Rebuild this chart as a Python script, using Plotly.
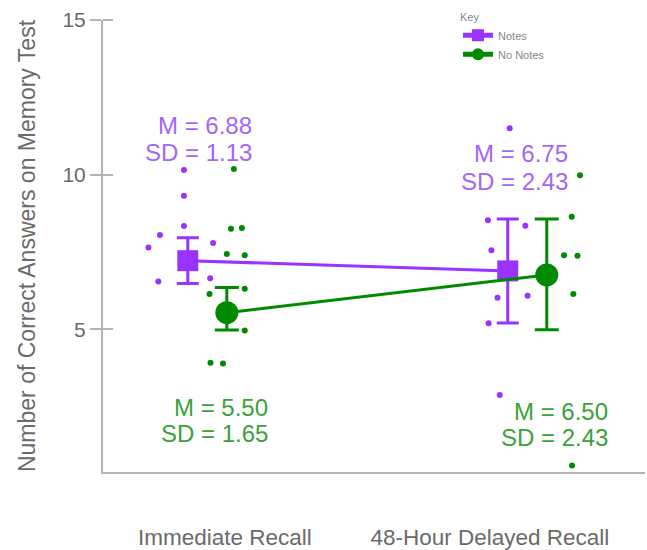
import plotly.graph_objects as go

# ---------------- data ----------------
categories = ["Immediate Recall", "48-Hour Delayed Recall"]
cat_pos = [0.0, 1.0]
label_pos = [0.056, 0.884]          # where the category labels sit
group_offset = {"Notes": -0.06, "No Notes": 0.062}

notes_mean = [7.22, 6.89]
notes_err = [0.74, 1.68]
nonotes_mean = [5.54, 6.76]
nonotes_err_plus = [0.81, 1.81]
nonotes_err_minus = [0.56, 1.77]

# individual scores (value, horizontal jitter)
notes_imm = [10.15, 9.32, 8.34, 8.05, 7.65, 7.79, 6.55, 6.65]
notes_imm_jit = [-0.012, -0.012, -0.012, -0.087, -0.123, 0.079, -0.092, 0.070]
nonotes_imm = [10.18, 8.25, 8.28, 7.44, 7.40, 6.14, 6.31, 4.96, 3.92, 3.90]
nonotes_imm_jit = [0.022, 0.013, 0.047, 0.0, 0.056, -0.054, 0.056, 0.056, -0.051, -0.012]
notes_del = [11.50, 8.53, 8.35, 7.56, 6.02, 6.09, 5.20, 2.88]
notes_del_jit = [0.006, -0.062, 0.055, -0.051, -0.032, 0.062, -0.060, -0.025]
nonotes_del = [9.98, 8.64, 7.40, 7.38, 6.14, 0.60]
nonotes_del_jit = [0.104, 0.078, 0.054, 0.096, 0.083, 0.079]

stats_text = {
    "Notes": [("M = 6.88", "SD = 1.13"), ("M = 6.75", "SD = 2.43")],
    "No Notes": [("M = 5.50", "SD = 1.65"), ("M = 6.50", "SD = 2.43")],
}

y_ticks = [5, 10, 15]

PURPLE = "#9933ff"
PURPLE_TXT = "#a466f5"
GREEN = "#008a00"
GREEN_TXT = "#3aa23a"
GRAY = "#b4b4b4"
TXT_GRAY = "#6a6a6a"
FONT = "Liberation Sans, Arial, sans-serif"

fig = go.Figure()

def dots(vals, jit, base, color):
    fig.add_trace(go.Scatter(
        x=[base + j for j in jit], y=vals, mode="markers",
        marker=dict(color=color, size=6), showlegend=False, hoverinfo="y"))

dots(notes_imm, notes_imm_jit, cat_pos[0] + group_offset["Notes"], PURPLE)
dots(nonotes_imm, nonotes_imm_jit, cat_pos[0] + group_offset["No Notes"], GREEN)
dots(notes_del, notes_del_jit, cat_pos[1] + group_offset["Notes"], PURPLE)
dots(nonotes_del, nonotes_del_jit, cat_pos[1] + group_offset["No Notes"], GREEN)

fig.add_trace(go.Scatter(
    x=[c + group_offset["Notes"] for c in cat_pos], y=notes_mean,
    mode="lines+markers", name="Notes",
    line=dict(color=PURPLE, width=3),
    marker=dict(symbol="square", size=21, color=PURPLE),
    error_y=dict(type="data", array=notes_err, color=PURPLE, thickness=3, width=11)))

fig.add_trace(go.Scatter(
    x=[c + group_offset["No Notes"] for c in cat_pos], y=nonotes_mean,
    mode="lines+markers", name="No Notes",
    line=dict(color=GREEN, width=3),
    marker=dict(symbol="circle", size=23, color=GREEN),
    error_y=dict(type="data", symmetric=False, array=nonotes_err_plus,
                 arrayminus=nonotes_err_minus, color=GREEN, thickness=3, width=12)))

# stats annotations
ann_pos = {
    "Notes": [(0.147, 11.60, 10.73), (1.134, 10.67, 9.79)],
    "No Notes": [(0.197, 2.49, 1.62), (1.259, 2.36, 1.49)],
}
for grp, col in (("Notes", PURPLE_TXT), ("No Notes", GREEN_TXT)):
    for (m, sd), (ax, y1, y2) in zip(stats_text[grp], ann_pos[grp]):
        for txt, yy in ((m, y1), (sd, y2)):
            fig.add_annotation(x=ax, y=yy, text=txt, showarrow=False,
                               xanchor="right", yanchor="middle",
                               font=dict(size=24, color=col, family=FONT))

fig.update_layout(
    width=647, height=550,
    margin=dict(l=103, r=2, t=20, b=78),
    paper_bgcolor="white", plot_bgcolor="white",
    font=dict(family=FONT, color=TXT_GRAY),
    legend=dict(x=0.655, y=1.03, xanchor="left", yanchor="top",
                title=dict(text="Key", font=dict(size=11, color="#888888")),
                font=dict(size=11, color="#888888"),
                itemsizing="constant", bgcolor="rgba(0,0,0,0)", tracegroupgap=0),
    xaxis=dict(range=[-0.325, 1.369], showline=True, linecolor=GRAY, linewidth=2,
               showgrid=False, zeroline=False, ticks="", automargin=False,
               tickvals=label_pos, ticktext=categories,
               tickfont=dict(size=22.5, color=TXT_GRAY), ticklabelstandoff=44),
    yaxis=dict(range=[0.39, 15], showline=True, linecolor=GRAY, linewidth=2,
               showgrid=False, zeroline=False, automargin=False,
               tickvals=y_ticks, ticks="outside", ticklen=11, tickwidth=2, tickcolor=GRAY,
               minor=dict(tickvals=y_ticks, ticks="inside", ticklen=10, tickwidth=2,
                          tickcolor=GRAY, showgrid=False),
               tickfont=dict(size=21, color=TXT_GRAY),
               title=dict(text="Number of Correct Answers on Memory Test",
                          font=dict(size=23, color=TXT_GRAY), standoff=20)),
)

fig.write_html("out.html")
